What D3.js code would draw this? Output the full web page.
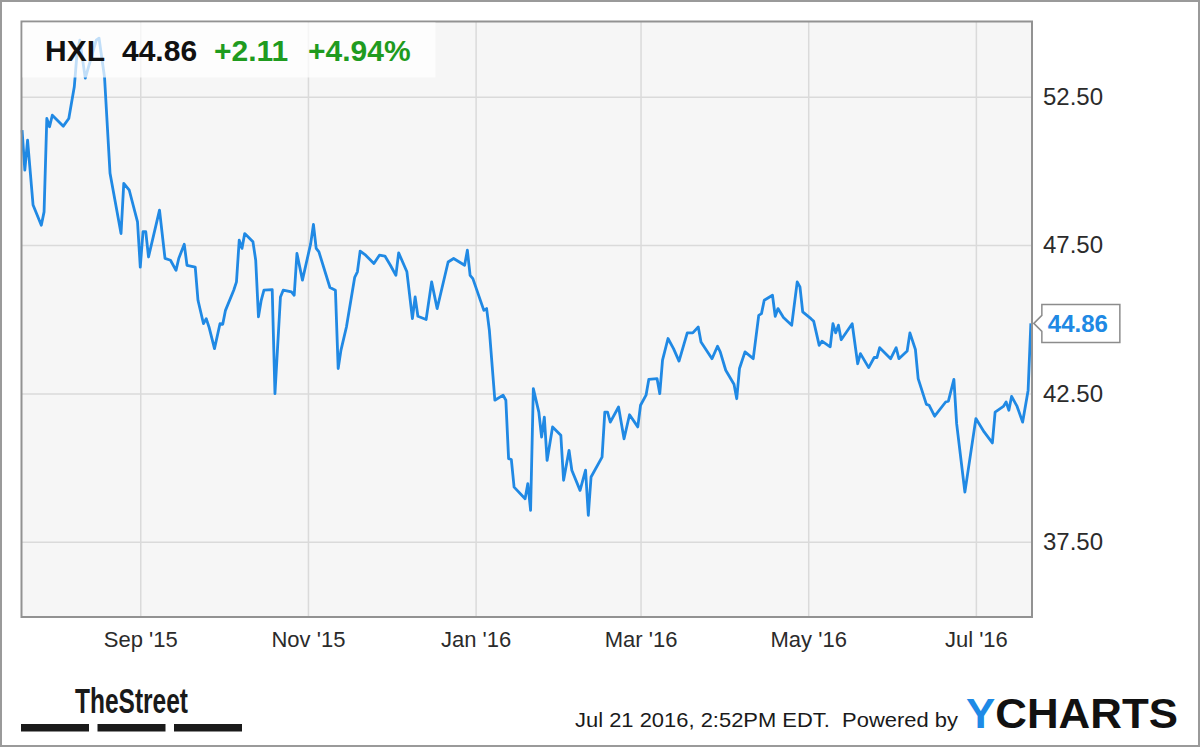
<!DOCTYPE html>
<html lang="en">

<head>
    <meta charset="utf-8">
    <title>HXL</title>
    <script src="https://cdn.jsdelivr.net/npm/d3@7"></script>
</head>
<style>
    body {
        margin: 0;
        background: #fff;
    }

    svg text {
        font-family: "Liberation Sans", Arial, Helvetica, sans-serif;
    }
</style>

<body>
    <script type="text/javascript">
        // closing prices
        var dates = [
            "2015-07-20", "2015-07-21", "2015-07-22", "2015-07-24", "2015-07-27", "2015-07-28", "2015-07-29", "2015-07-30", "2015-07-31",
            "2015-08-04", "2015-08-06", "2015-08-08", "2015-08-09", "2015-08-10", "2015-08-12", "2015-08-16", "2015-08-17", "2015-08-19",
            "2015-08-21", "2015-08-25", "2015-08-26", "2015-08-28", "2015-08-31",
            "2015-09-01", "2015-09-02", "2015-09-03", "2015-09-04", "2015-09-08", "2015-09-10", "2015-09-12", "2015-09-14", "2015-09-15",
            "2015-09-17", "2015-09-18", "2015-09-21", "2015-09-22", "2015-09-24", "2015-09-25", "2015-09-26", "2015-09-28", "2015-09-30",
            "2015-10-01", "2015-10-02", "2015-10-05", "2015-10-06", "2015-10-07", "2015-10-08", "2015-10-09", "2015-10-12", "2015-10-13",
            "2015-10-14", "2015-10-15", "2015-10-16", "2015-10-19", "2015-10-20", "2015-10-22", "2015-10-23", "2015-10-26", "2015-10-27",
            "2015-10-28", "2015-10-30",
            "2015-11-02", "2015-11-03", "2015-11-04", "2015-11-05", "2015-11-09", "2015-11-11", "2015-11-12", "2015-11-13", "2015-11-15",
            "2015-11-18", "2015-11-19", "2015-11-20", "2015-11-22", "2015-11-25", "2015-11-27", "2015-11-29",
            "2015-12-01", "2015-12-03", "2015-12-04", "2015-12-07", "2015-12-09", "2015-12-10", "2015-12-11", "2015-12-14", "2015-12-16",
            "2015-12-18", "2015-12-19", "2015-12-22", "2015-12-24", "2015-12-28", "2015-12-29", "2015-12-30", "2015-12-31",
            "2016-01-04", "2016-01-05", "2016-01-06", "2016-01-08", "2016-01-11", "2016-01-12", "2016-01-13", "2016-01-14", "2016-01-15",
            "2016-01-19", "2016-01-20", "2016-01-21", "2016-01-22", "2016-01-24", "2016-01-25", "2016-01-26", "2016-01-27", "2016-01-29",
            "2016-02-01", "2016-02-02", "2016-02-04", "2016-02-05", "2016-02-08", "2016-02-10", "2016-02-11", "2016-02-12", "2016-02-16",
            "2016-02-17", "2016-02-18", "2016-02-19", "2016-02-22", "2016-02-24", "2016-02-26", "2016-02-29",
            "2016-03-01", "2016-03-03", "2016-03-04", "2016-03-07", "2016-03-08", "2016-03-09", "2016-03-11", "2016-03-13", "2016-03-15",
            "2016-03-18", "2016-03-20", "2016-03-22", "2016-03-23", "2016-03-27", "2016-03-29", "2016-03-30",
            "2016-04-01", "2016-04-04", "2016-04-05", "2016-04-06", "2016-04-08", "2016-04-11", "2016-04-13", "2016-04-14", "2016-04-15",
            "2016-04-18", "2016-04-19", "2016-04-20", "2016-04-22", "2016-04-25", "2016-04-27", "2016-04-28", "2016-04-29",
            "2016-05-02", "2016-05-03", "2016-05-05", "2016-05-06", "2016-05-09", "2016-05-10", "2016-05-11", "2016-05-12", "2016-05-13",
            "2016-05-17", "2016-05-19", "2016-05-20", "2016-05-23", "2016-05-25", "2016-05-26", "2016-05-27", "2016-05-31",
            "2016-06-02", "2016-06-03", "2016-06-06", "2016-06-07", "2016-06-09", "2016-06-10", "2016-06-13", "2016-06-14", "2016-06-16",
            "2016-06-20", "2016-06-21", "2016-06-23", "2016-06-24", "2016-06-27",
            "2016-07-01", "2016-07-04", "2016-07-07", "2016-07-08", "2016-07-11", "2016-07-12", "2016-07-13", "2016-07-14", "2016-07-16",
            "2016-07-18", "2016-07-20", "2016-07-21"
        ];
        var prices = [
            51.38, 50.03, 51.04, 48.85, 48.17, 48.62, 51.77, 51.49, 51.88,
            51.51, 51.77, 52.84, 53.97, 54.41, 53.13, 54.41, 54.48, 53.16,
            49.92, 47.89, 49.58, 49.35, 48.28,
            46.76, 47.95, 47.95, 47.10, 48.68, 47.05, 46.99, 46.65, 47.05,
            47.53, 46.82, 46.76, 45.64, 44.85, 45.02, 44.74, 44.01, 44.85,
            44.83, 45.30, 45.98, 46.26, 47.67, 47.39, 47.89, 47.61, 46.99,
            45.08, 45.64, 45.98, 46.00, 42.49, 45.75, 45.98, 45.92, 45.81,
            47.22, 46.32,
            47.55, 48.20, 47.39, 47.27, 46.07, 45.98, 43.34, 43.95, 44.74,
            46.41, 46.60, 47.30, 47.16, 46.88, 47.16, 47.13,
            46.82, 46.48, 47.24, 46.60, 45.02, 45.75, 45.10, 44.99, 46.26,
            45.36, 45.75, 46.93, 47.05, 46.82, 47.33, 46.48, 46.37,
            45.30, 45.36, 44.63, 42.27, 42.44, 42.27, 40.30, 40.27, 39.34,
            38.95, 39.46, 38.56, 42.66, 41.87, 41.03, 41.70, 40.24, 41.37,
            41.09, 39.57, 40.58, 39.91, 39.23, 39.91, 38.39, 39.68, 40.35,
            41.87, 41.87, 41.53, 42.04, 40.97, 41.78, 41.37,
            42.10, 42.44, 42.97, 43.00, 42.49, 43.62, 44.35, 44.01, 43.59,
            44.54, 44.54, 44.74, 44.23, 43.67, 44.09, 43.90,
            43.28, 42.81, 42.32, 43.34, 43.90, 43.67, 45.13, 45.19, 45.64,
            45.81, 45.10, 45.36, 45.06, 44.80, 46.26, 46.09, 45.25,
            45.02, 44.93, 44.12, 44.26, 44.07, 44.85, 44.54, 44.80, 44.31,
            44.85, 43.50, 43.84, 43.37, 43.71, 43.71, 44.04, 43.67,
            44.04, 43.67, 43.93, 44.54, 43.98, 43.00, 42.13, 42.10, 41.73,
            42.21, 42.24, 42.97, 41.48, 39.17,
            41.65, 41.20, 40.83, 41.87, 42.06, 42.21, 41.93, 42.40, 42.06,
            41.53, 42.60, 44.86
        ];
        var yTicks = [37.5, 42.5, 47.5, 52.5];
        var xTicks = ["2015-09-01", "2015-11-01", "2016-01-01", "2016-03-01", "2016-05-01", "2016-07-01"];
        var ticker = "HXL";
        var lastPrice = "44.86";
        var change = "+2.11";
        var changePct = "+4.94%";
        var stamp = "Jul 21 2016, 2:52PM EDT.  Powered by";

        var width = 1200;
        var height = 747;
        var plotLeft = 21.5, plotTop = 21.5, plotRight = 1032, plotBottom = 617;
        var blue = "#2089e4";
        var parse = d3.timeParse("%Y-%m-%d");

        var data = dates.map((d, i) => ({ date: parse(d), value: prices[i] }));

        var svg = d3.select("body").append("svg")
            .attr("width", width)
            .attr("height", height);

        // outer frame
        svg.append("rect")
            .attr("x", 1).attr("y", 1)
            .attr("width", width - 2).attr("height", height - 2)
            .attr("fill", "#fff")
            .attr("stroke", "#9a9a9a")
            .attr("stroke-width", 2);

        var x = d3.scaleTime()
            .domain([new Date(2015, 6, 19, 19), new Date(2016, 6, 21, 10)])
            .range([plotLeft, plotRight]);
        var y = d3.scaleLinear()
            .domain([34.96, 55.04])
            .range([plotBottom, plotTop]);

        svg.append("rect")
            .attr("x", plotLeft).attr("y", plotTop)
            .attr("width", plotRight - plotLeft).attr("height", plotBottom - plotTop)
            .attr("fill", "#f6f6f6");

        var xAxis = svg.append("g")
            .attr("transform", `translate(0,${plotBottom})`)
            .call(d3.axisBottom(x)
                .tickValues(xTicks.map(parse))
                .tickFormat(d3.timeFormat("%b '%y"))
                .tickSizeInner(-(plotBottom - plotTop))
                .tickSizeOuter(0)
                .tickPadding(14));
        var yAxis = svg.append("g")
            .attr("transform", `translate(${plotRight},0)`)
            .call(d3.axisRight(y)
                .tickValues(yTicks)
                .tickFormat(d3.format(".2f"))
                .tickSizeInner(-(plotRight - plotLeft))
                .tickSizeOuter(0)
                .tickPadding(11));
        [xAxis, yAxis].forEach((g) => {
            g.select(".domain").remove();
            g.selectAll(".tick line").attr("stroke", "#dadada").attr("stroke-width", 1.5);
            g.selectAll(".tick text")
                .attr("fill", "#2b2b2b")
                .style("font-family", "'Liberation Sans', Arial, sans-serif");
        });
        xAxis.selectAll(".tick text").attr("font-size", 22);
        yAxis.selectAll(".tick text").attr("font-size", 24);

        svg.append("path")
            .datum(data)
            .attr("fill", "none")
            .attr("stroke", blue)
            .attr("stroke-width", 2.8)
            .attr("stroke-linejoin", "round")
            .attr("d", d3.line().x(d => x(d.date)).y(d => y(d.value)));

        svg.append("rect")
            .attr("x", plotLeft).attr("y", plotTop)
            .attr("width", plotRight - plotLeft).attr("height", plotBottom - plotTop)
            .attr("fill", "none")
            .attr("stroke", "#929292")
            .attr("stroke-width", 2);

        // quote header
        svg.append("rect")
            .attr("x", plotLeft + 1).attr("y", plotTop + 1)
            .attr("width", 413).attr("height", 55)
            .attr("fill", "#fff")
            .attr("opacity", 0.72);
        var head = svg.append("text")
            .attr("x", 45)
            .attr("y", 61)
            .attr("font-size", 30)
            .attr("font-weight", "bold");
        head.append("tspan").attr("fill", "#111").text(ticker);
        head.append("tspan").attr("fill", "#111").attr("x", 122).text(lastPrice);
        head.append("tspan").attr("fill", "#1f9b1f").attr("x", 214).text(change);
        head.append("tspan").attr("fill", "#1f9b1f").attr("x", 308).text(changePct);

        // last price flag
        var last = data[data.length - 1];
        var flag = svg.append("g")
            .attr("transform", `translate(${x(last.date) + 3},${y(last.value)})`);
        flag.append("path")
            .attr("d", "M0,0 L8,-8 L8,-19 L86,-19 L86,19 L8,19 L8,8 Z")
            .attr("fill", "#fff")
            .attr("stroke", "#8c8c8c")
            .attr("stroke-width", 1.5);
        flag.append("text")
            .attr("x", 14)
            .attr("y", 9)
            .attr("font-size", 24)
            .attr("font-weight", "bold")
            .attr("fill", blue)
            .text(lastPrice);

        // footer
        svg.append("text")
            .attr("x", 75)
            .attr("y", 713)
            .attr("font-size", 35)
            .attr("font-weight", "bold")
            .attr("fill", "#1a1a1a")
            .attr("textLength", 113)
            .attr("lengthAdjust", "spacingAndGlyphs")
            .text("TheStreet");
        svg.selectAll(".bar")
            .data([0, 1, 2])
            .join("rect")
            .attr("class", "bar")
            .attr("x", d => 21 + d * 76.5)
            .attr("y", 724)
            .attr("width", 68)
            .attr("height", 7.5)
            .attr("fill", "#1a1a1a");

        svg.append("text")
            .attr("x", 575)
            .attr("y", 727)
            .attr("font-size", 21)
            .attr("fill", "#1a1a1a")
            .attr("textLength", 383)
            .attr("lengthAdjust", "spacingAndGlyphs")
            .style("white-space", "pre")
            .text(stamp);
        var logo = svg.append("text")
            .attr("x", 966)
            .attr("y", 728)
            .attr("font-size", 43)
            .attr("font-weight", "bold")
            .attr("textLength", 212)
            .attr("lengthAdjust", "spacingAndGlyphs");
        logo.append("tspan").attr("fill", "#1e8ae6").text("Y");
        logo.append("tspan").attr("fill", "#111").text("CHARTS");
    </script>

</body>

</html>
